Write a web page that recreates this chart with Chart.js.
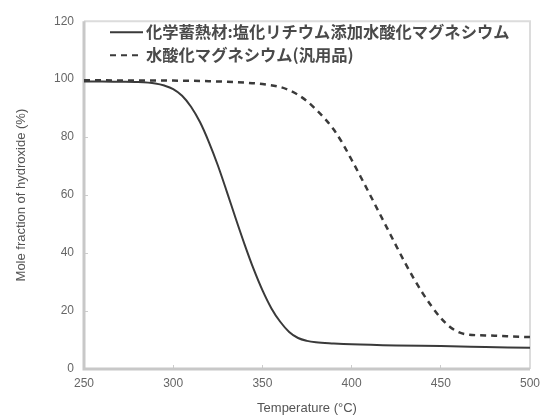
<!DOCTYPE html>
<html><head><meta charset="utf-8">
<script src="https://cdn.jsdelivr.net/npm/chart.js@4/dist/chart.umd.min.js"></script>
<style>html,body{margin:0;padding:0;background:#fff}#wrap{width:551px;height:416px}</style>
</head><body><div id="wrap"><canvas id="c" width="551" height="416"></canvas></div>
<script>
const seriesNames = ["化学蓄熱材:塩化リチウム添加水酸化マグネシウム", "水酸化マグネシウム(汎用品)"];
const tempsA = [250, 260, 270, 280, 290, 295, 300, 305, 310, 315, 320, 325, 330, 335, 340, 345, 350, 355, 360, 365, 370, 375, 380, 390, 400, 425, 450, 475, 500];
const valsA  = [99.2, 99.2, 99.1, 99.0, 98.5, 97.8, 96.6, 94.3, 90.5, 85.2, 78.3, 70.3, 61.3, 52, 43, 34.6, 27.2, 21, 16.3, 12.8, 10.7, 9.7, 9.2, 8.8, 8.5, 8.1, 7.9, 7.6, 7.3];
const tempsB = [250, 300, 320, 340, 350, 360, 365, 370, 375, 380, 385, 390, 395, 400, 405, 410, 415, 420, 425, 430, 435, 440, 445, 450, 455, 460, 465, 475, 487, 500];
const valsB  = [99.6, 99.5, 99.3, 98.8, 98.3, 97.3, 96.2, 94.6, 92.4, 89.6, 86.4, 82.6, 77.8, 72.2, 66.4, 60.5, 54.5, 48.5, 42.5, 36.6, 31.1, 26, 21.5, 17.6, 14.6, 12.7, 11.9, 11.6, 11.3, 11];
const xTicks = [250, 300, 350, 400, 450, 500];
const yTicks = [0, 20, 40, 60, 80, 100, 120];
const xTitle = "Temperature (°C)";
const yTitle = "Mole fraction of hydroxide (%)";

const ptsA = tempsA.map((t,i)=>({x:t,y:valsA[i]}));
const ptsB = tempsB.map((t,i)=>({x:t,y:valsB[i]}));

const frame = {
  id:'frame',
  beforeDatasetsDraw(chart){
    const {ctx, chartArea:a} = chart;
    ctx.save();
    ctx.strokeStyle = '#dcdcdc'; ctx.lineWidth = 2;
    ctx.beginPath();
    ctx.moveTo(a.left, a.top); ctx.lineTo(a.right, a.top); ctx.lineTo(a.right, a.bottom);
    ctx.stroke();
    ctx.strokeStyle = '#c8c8c8'; ctx.lineWidth = 3;
    ctx.beginPath();
    ctx.moveTo(a.left, a.top); ctx.lineTo(a.left, a.bottom); ctx.lineTo(a.right, a.bottom);
    ctx.stroke();
    ctx.restore();
  },
  afterDraw(chart){
    const {ctx, chartArea:a} = chart;
    ctx.save();
    ctx.font = 'bold 16.3px "Noto Sans CJK JP"';
    ctx.fillStyle = '#4a4a4a';
    ctx.textBaseline = 'middle';
    const ds = chart.data.datasets;
    ds.forEach((d,i)=>{
      const y = a.top + 11 + i*23;
      const x0 = a.left + 26;
      ctx.strokeStyle = '#3a3a3a';
      ctx.lineWidth = 2;
      ctx.setLineDash(d.borderDash || []);
      ctx.beginPath(); ctx.moveTo(x0, y); ctx.lineTo(x0+33, y); ctx.stroke();
      ctx.setLineDash([]);
      ctx.fillText(d.label, x0+36, y);
    });
    ctx.restore();
  }
};

new Chart(document.getElementById('c'), {
  type:'line',
  data:{datasets:[
    {label:seriesNames[0], data:ptsA, borderColor:'#3a3a3a', borderWidth:2, pointRadius:0, cubicInterpolationMode:'monotone', fill:false},
    {label:seriesNames[1], data:ptsB, borderColor:'#3a3a3a', borderWidth:2.5, borderDash:[6,5], pointRadius:0, cubicInterpolationMode:'monotone', fill:false}
  ]},
  options:{
    responsive:false, animation:false, devicePixelRatio:1,
    layout:{padding:{top:18, right:16, left:0, bottom:0}},
    plugins:{legend:{display:false}, tooltip:{enabled:false}},
    scales:{
      x:{type:'linear', min:250, max:500,
        afterBuildTicks(s){ s.ticks = xTicks.map(v=>({value:v})); },
        afterFit(s){ s.height = 47; },
        grid:{drawOnChartArea:false, drawTicks:true, tickLength:-4, color:'#cccccc'},
        border:{display:false},
        ticks:{color:'#666', font:{family:'Liberation Sans', size:12}, padding:11},
        title:{display:true, text:xTitle, color:'#555', font:{family:'Liberation Sans', size:13}, padding:{top:2,bottom:0}}
      },
      y:{min:0, max:120,
        afterBuildTicks(s){ s.ticks = yTicks.map(v=>({value:v})); },
        afterFit(s){ s.width = 84; },
        grid:{drawOnChartArea:false, drawTicks:true, tickLength:-4, color:'#cccccc'},
        border:{display:false},
        ticks:{color:'#666', font:{family:'Liberation Sans', size:12}, padding:14},
        title:{display:true, text:yTitle, color:'#555', font:{family:'Liberation Sans', size:13}, padding:{top:14,bottom:0}}
      }
    }
  },
  plugins:[frame]
});
</script></body></html>
